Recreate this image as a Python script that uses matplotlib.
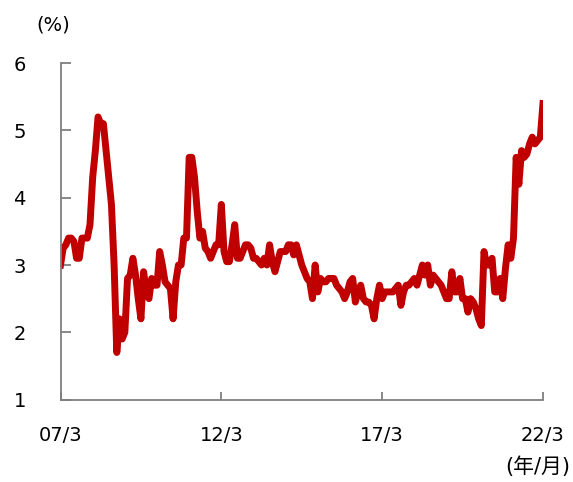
import matplotlib
matplotlib.use("Agg")
import matplotlib.pyplot as plt
import numpy as np

plt.rcParams["font.family"] = ["DejaVu Sans", "Noto Sans CJK JP"]

# monthly values, 2007/3 .. 2022/3
rate = [
    3.0, 3.25, 3.3, 3.4, 3.4, 3.35, 3.1, 3.1, 3.4, 3.4, 3.4, 3.6,
    4.3, 4.7, 5.2, 5.1, 5.1, 4.7, 4.3, 3.9, 3.0, 1.7, 2.2, 1.9,
    2.0, 2.8, 2.85, 3.1, 2.85, 2.5, 2.2, 2.9, 2.6, 2.5, 2.8, 2.7,
    2.7, 3.2, 3.0, 2.75, 2.7, 2.65, 2.2, 2.75, 3.0, 3.0, 3.4, 3.4,
    4.6, 4.6, 4.3, 3.8, 3.4, 3.5, 3.25, 3.2, 3.1, 3.2, 3.3, 3.3,
    3.9, 3.2, 3.05, 3.05, 3.3, 3.6, 3.1, 3.1, 3.2, 3.3, 3.3, 3.25,
    3.1, 3.1, 3.05, 3.0, 3.1, 3.0, 3.3, 3.05, 2.9, 3.05, 3.2, 3.2,
    3.2, 3.3, 3.3, 3.15, 3.3, 3.15, 3.0, 2.9, 2.8, 2.75, 2.5, 3.0,
    2.6, 2.8, 2.75, 2.75, 2.8, 2.8, 2.8, 2.7, 2.65, 2.6, 2.5, 2.6,
    2.75, 2.8, 2.45, 2.6, 2.7, 2.5, 2.45, 2.45, 2.4, 2.2, 2.5, 2.7,
    2.5, 2.6, 2.6, 2.6, 2.6, 2.65, 2.7, 2.4, 2.6, 2.7, 2.7, 2.75,
    2.8, 2.7, 2.85, 3.0, 2.85, 3.0, 2.7, 2.85, 2.8, 2.75, 2.7, 2.6,
    2.5, 2.5, 2.9, 2.6, 2.6, 2.8, 2.5, 2.5, 2.3, 2.5, 2.45, 2.35,
    2.2, 2.1, 3.2, 3.0, 3.0, 3.1, 2.6, 2.6, 2.8, 2.5, 2.95, 3.3,
    3.1, 3.4, 4.6, 4.2, 4.7, 4.6, 4.65, 4.8, 4.9, 4.8, 4.85, 4.9,
    5.4,
]
tick_months = [0, 60, 120, 180]
tick_labels = ["07/3", "12/3", "17/3", "22/3"]
y_ticks = [1, 2, 3, 4, 5, 6]

gray = "#7f7f7f"
fig = plt.figure(figsize=(5.73, 4.82), dpi=100)
fig.patch.set_facecolor("white")
ax = fig.add_axes([0.1056, 0.171, 0.842, 0.698])

x = np.arange(len(rate))
ax.plot(x, rate, color="#c00000", linewidth=5.0, solid_joinstyle="round")

ax.set_xlim(0, len(rate) - 1)
ax.set_ylim(1, 6)
ax.set_xticks(tick_months)
ax.set_xticklabels(tick_labels)
ax.set_yticks(y_ticks)

for spine in ("top", "right"):
    ax.spines[spine].set_visible(False)
for spine in ("left", "bottom"):
    ax.spines[spine].set_color(gray)
    ax.spines[spine].set_linewidth(1.3)

ax.tick_params(axis="y", direction="in", length=7, width=1.3, color=gray,
               labelsize=14, pad=25, labelcolor="black")
ax.tick_params(axis="x", direction="in", length=6, width=1.3, color=gray,
               labelsize=14, pad=19, labelcolor="black")

fig.text(36 / 573, 1 - 25 / 482, "(%)", fontsize=14, ha="left", va="center")
fig.text(570 / 573, 1 - 467 / 482, "(年/月)", fontsize=15, ha="right", va="center")

fig.savefig("out.png", dpi=100, facecolor="white")
